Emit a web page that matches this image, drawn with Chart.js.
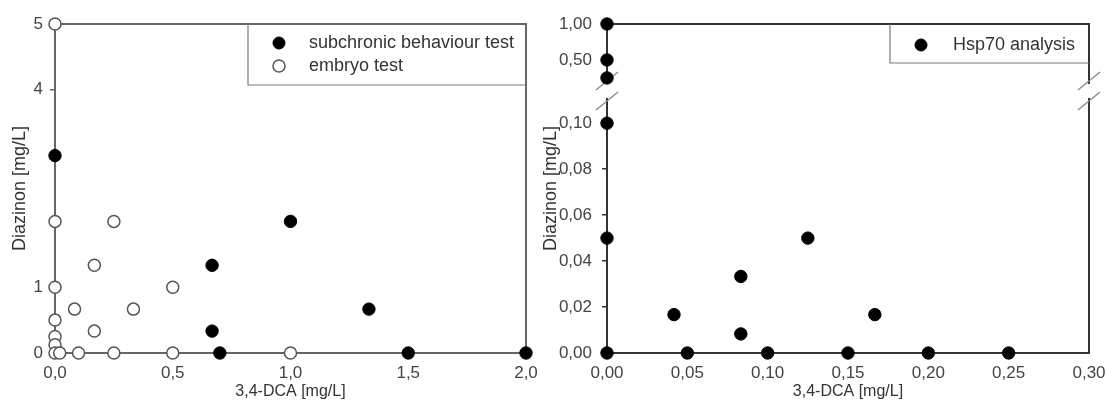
<!DOCTYPE html>
<html>
<head>
<meta charset="utf-8">
<script src="https://cdn.jsdelivr.net/npm/chart.js@4.4.0/dist/chart.umd.min.js"></script>
<style>
    html, body { margin: 0; padding: 0; background: #fff; overflow: hidden; width: 1106px; height: 401px; }
    #izq { position: absolute; left: 0; top: 0; }
    #der { position: absolute; left: 540px; top: 0; }
</style>
</head>
<body>
<canvas id="izq" width="540" height="401"></canvas>
<canvas id="der" width="600" height="401"></canvas>
<script>
// --- DATOS PANEL IZQUIERDO ---
const subX = [0, 0.667, 0.667, 0.7, 1.0, 1.333, 1.5, 2.0];
const subY = [3, 1.333, 0.333, 0, 2, 0.667, 0, 0];
const embX = [0, 0, 0.25, 0.167, 0, 0.5, 0.083, 0.333, 0, 0.167, 0, 0, 0, 0.02, 0.1, 0.25, 0.5, 1.0];
const embY = [5, 2, 2, 1.333, 1, 1, 0.667, 0.667, 0.5, 0.333, 0.25, 0.125, 0, 0, 0, 0, 0, 0];
const izqXTicks = [0, 0.5, 1.0, 1.5, 2.0];
const izqYTicks = [0, 1, 4, 5];

// --- DATOS PANEL DERECHO ---
const hspX = [0, 0, 0, 0, 0, 0, 0.0417, 0.05, 0.0833, 0.0833, 0.1, 0.125, 0.15, 0.1667, 0.2, 0.25];
const hspY = [1.0, 0.5, 0.25, 0.1, 0.05, 0, 0.0167, 0, 0.0333, 0.0083, 0, 0.05, 0, 0.0167, 0, 0];
const derXTicks = [0, 0.05, 0.10, 0.15, 0.20, 0.25, 0.30];
const derYTicks = [0, 0.02, 0.04, 0.06, 0.08, 0.10, 0.50, 1.00];

// eje Y partido: debajo de 0,10 escala normal, encima comprimida
const corteBajo = 0.10;
const baseAlta = 0.11187;
const escalaAlta = 0.0313;
function aEje(v) {
    return v <= corteBajo ? v : baseAlta + v * escalaAlta;
}

function coma(v, dec) {
    return v.toFixed(dec).replace('.', ',');
}

function puntos(xs, ys, fy) {
    return xs.map((x, i) => ({ x: x, y: fy ? fy(ys[i]) : ys[i] }));
}

Chart.defaults.font.family = "'Liberation Sans', Arial, sans-serif";
Chart.defaults.color = '#444';
Chart.defaults.animation = false;

// --- MARCO (arriba y derecha) + CORTE DEL EJE ---
const marcoPlugin = {
    id: 'marco',
    beforeDatasetsDraw(chart, args, o) {
        const { ctx, chartArea: a } = chart;
        ctx.save();
        ctx.strokeStyle = o.color;
        ctx.lineWidth = o.ancho;
        ctx.beginPath();
        ctx.moveTo(a.left, a.top);
        ctx.lineTo(a.right, a.top);
        ctx.lineTo(a.right, a.bottom);
        ctx.stroke();
        if (o.corte != null) {
            const yc = chart.scales.y.getPixelForValue(o.corte);
            [a.left, a.right].forEach(x => {
                ctx.fillStyle = '#fff';
                ctx.fillRect(x - 3, yc - 7, 6, 14);
                ctx.strokeStyle = '#8a8a8a';
                ctx.lineWidth = 1.3;
                [-10, 10].forEach(d => {
                    ctx.beginPath();
                    ctx.moveTo(x - 11, yc + d + 9);
                    ctx.lineTo(x + 11, yc + d - 9);
                    ctx.stroke();
                });
            });
        }
        ctx.restore();
    }
};

// --- LEYENDA EN CAJA ---
const leyendaPlugin = {
    id: 'leyendaCaja',
    afterDraw(chart, args, o) {
        const { ctx, chartArea: a } = chart;
        const x0 = a.right - o.ancho;
        const y0 = a.top;
        ctx.save();
        ctx.strokeStyle = '#7a7a7a';
        ctx.lineWidth = 1.2;
        ctx.beginPath();
        ctx.moveTo(x0, y0);
        ctx.lineTo(x0, y0 + o.alto);
        ctx.lineTo(a.right, y0 + o.alto);
        ctx.stroke();
        ctx.font = o.fuente;
        ctx.textBaseline = 'middle';
        chart.data.datasets.forEach((ds, i) => {
            const y = y0 + o.fila0 + i * o.paso;
            ctx.beginPath();
            ctx.arc(x0 + o.marca, y, 6, 0, Math.PI * 2);
            ctx.fillStyle = ds.pointBackgroundColor;
            ctx.fill();
            ctx.strokeStyle = ds.pointBorderColor;
            ctx.lineWidth = ds.pointBorderWidth;
            ctx.stroke();
            ctx.fillStyle = '#333';
            ctx.fillText(ds.label, x0 + o.texto, y);
        });
        ctx.restore();
    }
};

function ejeY(ancho, relleno, tituloPad, colorBorde, extra) {
    return Object.assign({
        type: 'linear',
        afterFit: s => { s.width = ancho; },
        grid: { drawOnChartArea: false, tickLength: 5, color: colorBorde, lineWidth: 1.5 },
        border: { color: colorBorde, width: 2 },
        ticks: { padding: relleno, autoSkip: false, font: { size: 17 }, color: '#444' },
        title: { display: true, text: 'Diazinon [mg/L]', font: { size: 18 }, color: '#333', padding: { top: tituloPad, bottom: 0 } }
    }, extra);
}

function ejeX(colorBorde, extra) {
    return Object.assign({
        type: 'linear',
        // altura fija y sin reservar espacio para la última etiqueta
        afterFit: s => { s.height = 48; s.paddingLeft = 0; s.paddingRight = 0; },
        grid: { drawOnChartArea: false, drawTicks: false },
        border: { color: colorBorde, width: 2 },
        ticks: { padding: 10, autoSkip: false, maxRotation: 0, font: { size: 17 }, color: '#444' },
        title: { display: true, text: '3,4-DCA [mg/L]', font: { size: 16 }, color: '#333', padding: { top: 0, bottom: 0 } }
    }, extra);
}

// --- GRÁFICA IZQUIERDA ---
new Chart(document.getElementById('izq'), {
    type: 'scatter',
    data: {
        datasets: [{
            label: 'subchronic behaviour test',
            data: puntos(subX, subY),
            pointRadius: 6.2,
            pointBackgroundColor: '#000',
            pointBorderColor: '#000',
            pointBorderWidth: 1,
            clip: false
        }, {
            label: 'embryo test',
            data: puntos(embX, embY),
            pointRadius: 6,
            pointBackgroundColor: '#fff',
            pointBorderColor: '#555',
            pointBorderWidth: 1.5,
            clip: false
        }]
    },
    options: {
        responsive: false,
        layout: { padding: { left: 0, top: 24, right: 14, bottom: 0 } },
        plugins: {
            legend: { display: false },
            tooltip: { enabled: false },
            marco: { color: '#666', ancho: 2 },
            leyendaCaja: { ancho: 278, alto: 61, marca: 31, texto: 61, fila0: 19, paso: 23, fuente: "18px 'Liberation Sans', Arial, sans-serif" }
        },
        scales: {
            x: ejeX('#666', {
                min: 0, max: 2,
                afterBuildTicks: s => { s.ticks = izqXTicks.map(v => ({ value: v })); },
                ticks: { padding: 10, autoSkip: false, maxRotation: 0, font: { size: 17 }, color: '#444', callback: v => coma(v, 1) }
            }),
            y: ejeY(55, 7, 9, '#666', {
                min: 0, max: 5,
                afterBuildTicks: s => { s.ticks = izqYTicks.map(v => ({ value: v })); },
                ticks: { padding: 7, autoSkip: false, font: { size: 17 }, color: '#444', callback: v => String(v) }
            })
        }
    },
    plugins: [marcoPlugin, leyendaPlugin]
});

// --- GRÁFICA DERECHA ---
new Chart(document.getElementById('der'), {
    type: 'scatter',
    data: {
        datasets: [{
            label: 'Hsp70 analysis',
            data: puntos(hspX, hspY, aEje),
            pointRadius: 6.2,
            pointBackgroundColor: '#000',
            pointBorderColor: '#000',
            pointBorderWidth: 1,
            clip: false
        }]
    },
    options: {
        responsive: false,
        layout: { padding: { left: 0, top: 24, right: 51, bottom: 0 } },
        plugins: {
            legend: { display: false },
            tooltip: { enabled: false },
            marco: { color: '#333', ancho: 2, corte: 0.11404 },
            leyendaCaja: { ancho: 199, alto: 39, marca: 31, texto: 63, fila0: 21, paso: 23, fuente: "18px 'Liberation Sans', Arial, sans-serif" }
        },
        scales: {
            x: ejeX('#333', {
                min: 0, max: 0.30,
                afterBuildTicks: s => { s.ticks = derXTicks.map(v => ({ value: v })); },
                ticks: { padding: 10, autoSkip: false, maxRotation: 0, font: { size: 17 }, color: '#444', callback: v => coma(v, 2) }
            }),
            y: ejeY(67, 10, 0, '#333', {
                min: 0, max: aEje(1.0),
                afterBuildTicks: s => { s.ticks = derYTicks.map(v => ({ value: aEje(v) })); },
                ticks: { padding: 10, autoSkip: false, font: { size: 17 }, color: '#444', callback: (v, i) => coma(derYTicks[i], 2) }
            })
        }
    },
    plugins: [marcoPlugin, leyendaPlugin]
});
</script>
</body>
</html>
